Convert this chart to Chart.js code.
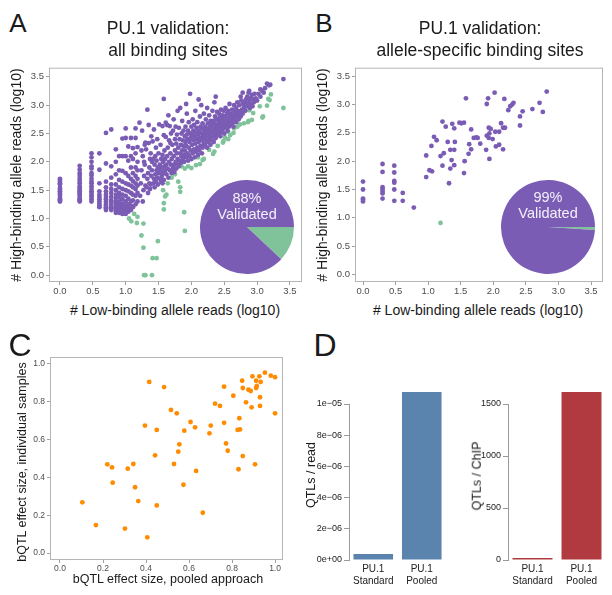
<!DOCTYPE html>
<html>
<head>
<meta charset="utf-8">
<script src="https://cdn.jsdelivr.net/npm/chart.js@4.4.0/dist/chart.umd.min.js"></script>
<style>
  html, body { margin: 0; padding: 0; background: #fff; }
  #page { position: relative; width: 612px; height: 595px; overflow: hidden;
    font-family: 'Liberation Sans', Arial, sans-serif; color: #1a1a1a; }
  canvas { position: absolute; }
  .t { position: absolute; white-space: nowrap; line-height: 1; transform: translate(-50%, -50%); }
  .rot { transform: translate(-50%, -50%) rotate(-90deg); }
  .title { font-size: 17.5px; line-height: 22px; text-align: center; }
  .axt { font-size: 14px; }
  .axs { font-size: 12.5px; }
  .pie { font-size: 14.5px; color: #f4f0fa; }
</style>
</head>
<body>
<div id="page">
  <canvas id="scatterA" width="306" height="240" style="left:0;top:60px"></canvas>
  <canvas id="scatterB" width="306" height="240" style="left:306px;top:60px"></canvas>
  <canvas id="pieA" width="94" height="94" style="left:200px;top:180px"></canvas>
  <canvas id="pieB" width="94" height="94" style="left:501px;top:180px"></canvas>
  <canvas id="scatterC" width="306" height="255" style="left:0;top:340px"></canvas>
  <canvas id="barRead" width="150" height="215" style="left:306px;top:380px"></canvas>
  <canvas id="barChip" width="156" height="215" style="left:456px;top:380px"></canvas>

  <div class="t" style="left:18px;top:22.5px;font-size:26px">A</div>
  <div class="t" style="left:324px;top:22.5px;font-size:26px">B</div>
  <div class="t" style="left:20px;top:345px;font-size:32px">C</div>
  <div class="t" style="left:325px;top:345px;font-size:32px">D</div>

  <div class="t title" style="left:168px;top:39px">PU.1 validation:<br>all binding sites</div>
  <div class="t title" style="left:480px;top:39px">PU.1 validation:<br>allele-specific binding sites</div>

  <div class="t axt rot" style="left:15.5px;top:175px"># High-binding allele reads (log10)</div>
  <div class="t axt" style="left:175px;top:310px"># Low-binding allele reads (log10)</div>
  <div class="t axt rot" style="left:321.5px;top:175px"># High-binding allele reads (log10)</div>
  <div class="t axt" style="left:478px;top:310px"># Low-binding allele reads (log10)</div>

  <div class="t pie" style="left:247px;top:198px">88%</div>
  <div class="t pie" style="left:247px;top:214px">Validated</div>
  <div class="t pie" style="left:548px;top:197px">99%</div>
  <div class="t pie" style="left:548px;top:213px">Validated</div>

  <div class="t axs rot" style="left:21.5px;top:462px">bQTL effect size, individual samples</div>
  <div class="t axs" style="left:168px;top:579px">bQTL effect size, pooled approach</div>

  <div class="t axs rot" style="left:311px;top:475px">QTLs / read</div>
  <div class="t axs rot" style="left:477px;top:476px">QTLs / ChIP</div>
</div>
<script>
const FONT = "'Liberation Sans', Arial, sans-serif"

const PURPLE = '#7b5cb4'
const GREEN = '#80c39b'
const ORANGE = '#ff8c00'
const BLUE = '#5a84ad'
const RED = '#b13a41'

// ---- panel A: all binding sites (log10 reads) ----
// low read counts sit on discrete columns
const A_COLUMN_X = [0, 0.30, 0.48, 0.60, 0.70, 0.78, 0.85, 0.90, 0.95, 1.00, 1.04, 1.08, 1.11, 1.15, 1.18]
const A_COLUMN_Y = [
  [1.30, 1.32, 1.34, 1.36, 1.40, 1.43, 1.45, 1.48, 1.51, 1.54, 1.60, 1.62, 1.65, 1.68, 1.70],
  [1.30, 1.32, 1.34, 1.36, 1.40, 1.43, 1.45, 1.48, 1.51, 1.54, 1.57, 1.62, 1.66, 1.70, 1.75, 1.80, 1.86, 1.93],
  [1.30, 1.34, 1.38, 1.41, 1.45, 1.48, 1.52, 1.57, 1.62, 1.65, 1.70, 1.76, 1.80, 1.88, 1.92, 2.00, 2.08, 2.15],
  [1.20, 1.23, 1.26, 1.30, 1.34, 1.38, 1.42, 1.48, 1.62, 1.86, 2.15],
  [1.15, 1.18, 1.20, 1.23, 1.26, 1.30, 1.34, 1.38, 1.42, 1.48, 1.55, 1.65, 1.97, 2.51],
  [1.15, 1.18, 1.20, 1.24, 1.28, 1.32, 1.38, 1.45, 1.52, 1.60, 1.72, 1.92, 2.57],
  [1.10, 1.14, 1.18, 1.22, 1.26, 1.30, 1.36, 1.42, 1.50, 1.60, 1.78, 2.00, 2.22],
  [1.10, 1.13, 1.17, 1.20, 1.25, 1.30, 1.38, 1.45, 1.55, 1.68, 1.85, 2.10],
  [1.08, 1.12, 1.16, 1.20, 1.26, 1.34, 1.42, 1.52, 1.65, 1.84, 2.10, 2.41],
  [1.08, 1.12, 1.17, 1.22, 1.30, 1.40, 1.50, 1.62, 1.80, 2.10, 2.42, 2.59],
  [1.12, 1.18, 1.25, 1.35, 1.48, 1.60, 1.75, 2.02, 2.27],
  [1.15, 1.22, 1.30, 1.45, 1.58, 1.70, 1.90, 2.10, 2.42],
  [1.20, 1.32, 1.42, 1.55, 1.66, 1.80, 2.05, 2.24],
  [1.25, 1.40, 1.52, 1.62, 1.75, 1.90, 2.15, 2.42, 2.59],
  [1.30, 1.45, 1.58, 1.70, 1.85, 2.00, 2.26],
]

const A_PURPLE = [
  [1.21, 2.69], [1.22, 1.40], [1.23, 1.62], [1.24, 1.85], [1.25, 2.55], [1.26, 2.10], [1.27, 1.50], [1.28, 1.75],
  [1.28, 2.00], [1.29, 2.30], [1.30, 1.58], [1.30, 2.34], [1.26, 1.30], [1.29, 1.95], [1.24, 2.20],
  [1.33, 2.92], [1.32, 1.55], [1.33, 1.70], [1.34, 1.80], [1.35, 2.65], [1.35, 2.33], [1.36, 1.62], [1.36, 1.90],
  [1.37, 2.05], [1.38, 1.60], [1.38, 2.15], [1.39, 1.75], [1.39, 2.45], [1.40, 1.85], [1.40, 2.00], [1.31, 2.22],
  [1.34, 1.45], [1.37, 1.52],
  [1.41, 2.36], [1.42, 1.62], [1.43, 2.57], [1.43, 1.70], [1.44, 1.95], [1.45, 1.78], [1.45, 2.10], [1.46, 1.65],
  [1.46, 2.25], [1.47, 1.85], [1.47, 2.02], [1.48, 1.72], [1.48, 2.40], [1.49, 1.90], [1.49, 1.60], [1.50, 2.15],
  [1.50, 1.80], [1.42, 2.05], [1.44, 1.55],
  [1.51, 2.66], [1.52, 1.95], [1.52, 1.70], [1.53, 1.85], [1.53, 2.30], [1.54, 2.05], [1.55, 1.75], [1.55, 1.90],
  [1.56, 2.63], [1.56, 2.12], [1.57, 1.80], [1.57, 2.00], [1.58, 3.11], [1.58, 2.47], [1.58, 1.68], [1.59, 1.92],
  [1.59, 2.20], [1.60, 1.85], [1.60, 2.05], [1.54, 1.65], [1.56, 1.62],
  [1.61, 2.69], [1.61, 2.44], [1.62, 1.78], [1.62, 1.95], [1.63, 2.65], [1.63, 2.10], [1.64, 1.88], [1.64, 2.25],
  [1.65, 1.72], [1.65, 2.82], [1.66, 2.38], [1.66, 2.00], [1.67, 2.63], [1.67, 1.85], [1.68, 2.33], [1.68, 2.15],
  [1.69, 1.95], [1.69, 2.50], [1.70, 1.80], [1.70, 2.05],
  [1.71, 2.30], [1.72, 1.90], [1.72, 2.55], [1.73, 2.10], [1.73, 2.75], [1.74, 1.95], [1.75, 2.40], [1.75, 2.20],
  [1.76, 2.00], [1.76, 2.62], [1.77, 1.88], [1.77, 2.32], [1.78, 2.15], [1.78, 2.48], [1.79, 2.05], [1.79, 2.90],
  [1.80, 1.95], [1.80, 2.25], [1.74, 1.82], [1.71, 1.85],
  [1.81, 2.60], [1.82, 2.02], [1.82, 2.40], [1.83, 2.15], [1.83, 2.95], [1.84, 1.98], [1.84, 2.30], [1.85, 2.50],
  [1.85, 2.10], [1.86, 2.72], [1.86, 2.20], [1.87, 2.05], [1.87, 2.38], [1.88, 2.28], [1.88, 2.55], [1.89, 2.12],
  [1.89, 2.00], [1.90, 2.45], [1.90, 2.20], [1.81, 1.92],
  [1.91, 2.35], [1.91, 2.62], [1.92, 2.08], [1.92, 2.28], [1.93, 2.48], [1.93, 2.85], [1.94, 2.15], [1.94, 2.40],
  [1.95, 2.02], [1.95, 2.55], [1.96, 2.25], [1.96, 2.70], [1.97, 2.10], [1.97, 2.35], [1.98, 2.50], [1.98, 3.20],
  [1.99, 2.20], [1.99, 2.42], [2.00, 2.05], [2.00, 2.62], [1.92, 3.02],
  [2.01, 2.30], [2.01, 2.48], [2.02, 2.15], [2.02, 2.75], [2.03, 2.38], [2.03, 2.55], [2.04, 2.22], [2.04, 2.65],
  [2.05, 2.08], [2.05, 2.45], [2.06, 2.32], [2.06, 2.90], [2.07, 2.18], [2.07, 2.52], [2.08, 2.40], [2.08, 2.60],
  [2.09, 2.25], [2.09, 2.70], [2.10, 2.12], [2.10, 2.48],
  [2.11, 2.35], [2.12, 2.55], [2.12, 2.20], [2.13, 2.80], [2.13, 2.42], [2.14, 2.28], [2.14, 2.62], [2.15, 2.50],
  [2.15, 3.00], [2.16, 2.15], [2.16, 2.38], [2.17, 2.68], [2.17, 2.25], [2.18, 2.45], [2.18, 2.58], [2.19, 2.32],
  [2.19, 2.85], [2.20, 2.40], [2.20, 2.52], [2.11, 3.10],
  [2.21, 2.62], [2.21, 2.30], [2.22, 2.48], [2.22, 2.75], [2.23, 2.38], [2.23, 2.55], [2.24, 2.25], [2.24, 2.95],
  [2.25, 2.45], [2.25, 2.68], [2.26, 2.35], [2.26, 2.58], [2.27, 2.50], [2.27, 2.82], [2.28, 2.40], [2.28, 2.62],
  [2.29, 2.30], [2.29, 2.72], [2.30, 2.55], [2.30, 2.45],
  [2.31, 2.65], [2.31, 2.38], [2.32, 2.52], [2.32, 2.90], [2.33, 2.45], [2.33, 2.72], [2.34, 2.58], [2.34, 2.35],
  [2.35, 2.68], [2.35, 3.05], [2.36, 2.50], [2.36, 2.80], [2.37, 2.42], [2.37, 2.62], [2.38, 2.75], [2.38, 2.55],
  [2.39, 2.48], [2.39, 2.88], [2.40, 2.65], [2.40, 2.58], [2.37, 3.15],
  [2.41, 2.72], [2.41, 2.50], [2.42, 2.62], [2.42, 2.85], [2.43, 2.55], [2.43, 2.78], [2.44, 2.68], [2.44, 2.45],
  [2.45, 2.60], [2.45, 2.92], [2.46, 2.72], [2.46, 2.52], [2.47, 2.82], [2.47, 2.65], [2.48, 2.58], [2.48, 2.75],
  [2.49, 2.90], [2.49, 2.62], [2.50, 2.70], [2.50, 2.50],
  [2.51, 2.80], [2.52, 2.65], [2.52, 2.95], [2.53, 2.72], [2.54, 2.60], [2.54, 2.85], [2.55, 2.75], [2.56, 2.68],
  [2.56, 2.90], [2.57, 2.62], [2.58, 2.80], [2.58, 3.02], [2.59, 2.72], [2.60, 2.85], [2.60, 2.65], [2.55, 2.55],
  [2.61, 2.78], [2.62, 2.92], [2.62, 2.68], [2.63, 2.82], [2.64, 2.75], [2.65, 3.00], [2.65, 2.72], [2.66, 2.88],
  [2.67, 2.80], [2.68, 2.95], [2.68, 2.70], [2.69, 2.85], [2.70, 3.05], [2.70, 2.78], [2.64, 2.62],
  [2.71, 2.90], [2.72, 2.82], [2.73, 3.00], [2.74, 2.88], [2.75, 2.80], [2.76, 3.08], [2.77, 2.92], [2.78, 2.85],
  [2.79, 3.02], [2.80, 2.95], [2.78, 3.22], [2.75, 3.15], [2.72, 2.75],
  [2.81, 3.05], [2.82, 2.90], [2.83, 3.10], [2.84, 2.98], [2.85, 3.15], [2.86, 3.02], [2.87, 3.22], [2.88, 3.08],
  [2.89, 2.95], [2.90, 3.12], [2.88, 3.25],
  [2.91, 3.02], [2.92, 3.18], [2.94, 3.10], [2.95, 3.05], [2.96, 3.20], [2.98, 3.12], [3.00, 3.08], [2.93, 2.98],
  [3.02, 3.20], [3.05, 3.15], [3.08, 3.25], [3.10, 3.22], [3.12, 3.30], [3.15, 3.38], [3.18, 3.35], [3.20, 3.36],
  [3.05, 3.28], [3.40, 3.46],
]

const A_GREEN = [
  [1.05, 1.00], [1.085, 0.95], [1.13, 1.08], [1.18, 1.03], [1.17, 0.92], [1.27, 0.91], [1.24, 0.70], [1.27, 0.485],
  [1.49, 0.60], [1.41, 0.30], [1.47, 0.30], [1.28, 0.00], [1.30, 0.00], [1.40, 0.00], [1.90, 0.78], [1.89, 1.11],
  [1.58, 1.16], [1.58, 1.27], [1.60, 1.39], [1.57, 1.50], [1.64, 1.62], [1.83, 1.47], [1.80, 1.65], [1.62, 1.42],
  [1.83, 1.55], [1.70, 1.72], [1.75, 1.78], [1.90, 1.88], [1.85, 1.92], [1.95, 1.92], [2.00, 1.89], [2.07, 1.94],
  [2.10, 2.08], [2.17, 2.03], [2.13, 1.96], [2.19, 2.05], [2.27, 2.21], [2.33, 2.14], [2.35, 2.18], [2.40, 2.28],
  [2.48, 2.34], [2.49, 2.37], [2.51, 2.43], [2.56, 2.40], [2.56, 2.53], [2.59, 2.47], [2.64, 2.51], [2.65, 2.59],
  [2.70, 2.62], [2.74, 2.66], [2.80, 2.68], [2.86, 2.70], [2.87, 2.72], [2.88, 2.91], [2.92, 2.74], [2.94, 2.86],
  [3.04, 2.98], [3.08, 2.78], [3.09, 2.80], [3.15, 2.99], [3.17, 3.11], [3.19, 3.09], [3.21, 3.19], [3.40, 2.95],
]
const A_PIE = [12, 88]

// ---- panel B: allele-specific binding sites ----
const B_PURPLE = [
  [0, 1.64], [0, 1.50], [0, 1.34], [0, 1.32], [0, 1.29],
  [0.30, 1.95], [0.30, 1.81], [0.30, 1.54], [0.30, 1.50], [0.30, 1.46], [0.30, 1.43], [0.30, 1.34],
  [0.48, 1.92], [0.48, 1.80], [0.48, 1.65], [0.48, 1.62], [0.48, 1.50], [0.48, 1.30],
  [0.61, 1.44], [0.61, 1.30], [0.78, 1.18],
  [0.97, 2.10], [0.97, 1.72], [1.02, 1.84], [1.06, 1.82], [1.05, 2.27], [1.09, 2.43], [1.13, 2.37],
  [1.22, 2.70], [1.27, 2.61], [1.19, 2.09], [1.24, 2.14], [1.22, 1.92], [1.30, 2.34], [1.34, 2.20],
  [1.34, 1.87], [1.32, 1.61], [1.37, 2.66], [1.40, 2.58], [1.40, 2.20], [1.41, 2.34], [1.40, 1.93],
  [1.36, 2.02], [1.48, 2.68], [1.51, 2.67], [1.55, 2.68], [1.58, 3.11], [1.55, 1.79], [1.56, 2.00],
  [1.62, 2.13], [1.63, 2.30], [1.66, 2.56], [1.66, 2.21], [1.70, 2.41], [1.74, 2.42], [1.76, 2.41],
  [1.80, 2.31], [1.89, 2.20], [1.90, 3.01], [1.92, 3.11], [1.93, 2.59], [1.93, 2.41], [1.94, 2.49],
  [1.94, 2.04], [2.02, 3.21], [1.99, 2.39], [1.90, 2.45], [1.96, 2.57], [2.03, 2.52], [2.09, 2.52],
  [2.04, 2.26], [2.09, 2.29], [2.12, 2.67], [2.15, 2.59], [2.18, 2.59], [2.15, 2.21], [2.17, 3.10],
  [2.23, 2.90], [2.26, 2.97], [2.29, 3.00], [2.31, 3.03], [2.41, 2.79], [2.41, 2.63], [2.45, 2.88],
  [2.60, 2.92], [2.71, 3.03], [2.76, 2.87], [2.82, 3.23],
]
const B_GREEN = [[1.19, 0.91]]
const B_PIE = [1, 99]

const AB_X_TICKS = [0, 0.5, 1, 1.5, 2, 2.5, 3, 3.5]
const AB_Y_TICKS = [0, 0.5, 1, 1.5, 2, 2.5, 3, 3.5]

// ---- panel C: bQTL effect sizes ----
const C_POINTS = [
  [0.104, 0.268], [0.167, 0.148], [0.220, 0.469], [0.242, 0.453], [0.245, 0.372], [0.315, 0.446],
  [0.302, 0.129], [0.341, 0.471], [0.349, 0.348], [0.364, 0.275], [0.395, 0.674], [0.406, 0.083],
  [0.415, 0.905], [0.442, 0.517], [0.450, 0.651], [0.450, 0.252], [0.484, 0.878], [0.516, 0.757],
  [0.530, 0.471], [0.543, 0.739], [0.550, 0.536], [0.555, 0.575], [0.574, 0.361], [0.578, 0.647],
  [0.607, 0.693], [0.628, 0.665], [0.633, 0.434], [0.664, 0.213], [0.695, 0.633], [0.701, 0.674],
  [0.721, 0.790], [0.744, 0.778], [0.763, 0.689], [0.763, 0.880], [0.772, 0.580], [0.780, 0.541],
  [0.806, 0.832], [0.826, 0.651], [0.834, 0.713], [0.830, 0.443], [0.837, 0.654], [0.847, 0.912],
  [0.850, 0.873], [0.850, 0.513], [0.865, 0.797], [0.876, 0.864], [0.887, 0.857], [0.891, 0.771],
  [0.895, 0.935], [0.912, 0.873], [0.915, 0.884], [0.912, 0.912], [0.907, 0.469], [0.933, 0.905],
  [0.927, 0.935], [0.930, 0.824], [0.930, 0.778], [0.953, 0.954], [0.980, 0.938], [1.000, 0.930],
  [1.000, 0.739],
]
const C_TICKS = [0, 0.2, 0.4, 0.6, 0.8, 1.0]

// ---- panel D: QTL yield ----
const D_LABELS = [['PU.1', 'Standard'], ['PU.1', 'Pooled']]
const D_PER_READ = [3.85e-7, 1.077e-5]
const D_PER_CHIP = [19, 1615]
const D_READ_TICKS = [0, 2e-6, 4e-6, 6e-6, 8e-6, 1e-5]
const D_CHIP_TICKS = [0, 500, 1000, 1500]

const plotBox = {
  id: 'plotBox',
  beforeDatasetsDraw(chart, args, opts) {
    const { ctx, chartArea: a } = chart
    ctx.save()
    ctx.strokeStyle = opts.color
    ctx.lineWidth = 1
    ctx.strokeRect(a.left + 0.5, a.top + 0.5, a.width - 1, a.height - 1)
    ctx.restore()
  },
}

function fixedTicks(values) {
  return (scale) => {
    scale.ticks = values.map((value) => ({ value }))
  }
}

function toPoints(pairs) {
  return pairs.map(([x, y]) => ({ x, y }))
}

function columnPoints(xs, ys) {
  const points = []
  xs.forEach((x, i) => {
    for (const y of ys[i]) points.push({ x, y })
  })
  return points
}

function dots(points, color) {
  return {
    data: points,
    backgroundColor: color,
    pointRadius: 2.4,
    pointBorderWidth: 0,
    pointHoverRadius: 2.4,
  }
}

function scatterAxis(range, ticks, size, horizontal, fontSize) {
  return {
    type: 'linear',
    min: range[0],
    max: range[1],
    afterBuildTicks: fixedTicks(ticks),
    afterFit(scale) {
      if (horizontal) scale.height = size
      else scale.width = size
    },
    grid: { drawOnChartArea: false, drawTicks: true, tickLength: 3, color: '#a0a0a0' },
    border: { display: false },
    ticks: {
      color: '#4d4d4d',
      font: { family: FONT, size: fontSize },
      padding: horizontal ? 1 : 2,
      autoSkip: false,
      maxRotation: 0,
      callback: (v) => Number(v).toFixed(1),
    },
  }
}

function mountScatter(id, datasets, frame) {
  new Chart(document.getElementById(id), {
    type: 'scatter',
    data: { datasets },
    options: {
      responsive: false,
      animation: false,
      events: [],
      layout: { padding: frame.padding },
      plugins: {
        legend: { display: false },
        tooltip: { enabled: false },
        plotBox: { color: '#b5b5b5' },
      },
      scales: {
        x: scatterAxis(frame.xRange, frame.xTicks, frame.xSize, true, frame.font),
        y: scatterAxis(frame.yRange, frame.yTicks, frame.ySize, false, frame.font),
      },
    },
    plugins: [plotBox],
  })
}

function mountPie(id, values) {
  new Chart(document.getElementById(id), {
    type: 'pie',
    data: {
      datasets: [{ data: values, backgroundColor: [GREEN, PURPLE], borderWidth: 0, hoverOffset: 0, offset: 0 }],
    },
    options: {
      responsive: false,
      animation: false,
      events: [],
      rotation: 90,
      layout: { padding: 0 },
      plugins: { legend: { display: false }, tooltip: { enabled: false } },
    },
  })
}

function sciLabel(v) {
  const [mant, exp] = Number(v).toExponential(0).split('e')
  const n = parseInt(exp, 10)
  return `${mant}e${n < 0 ? '\u2212' : '+'}${String(Math.abs(n)).padStart(2, '0')}`
}

function mountBars(id, values, color, yTicks, format, frame) {
  new Chart(document.getElementById(id), {
    type: 'bar',
    data: {
      labels: D_LABELS,
      datasets: [{
        data: values,
        backgroundColor: color,
        borderWidth: 0,
        barPercentage: 0.816,
        categoryPercentage: 1,
        clip: false,
      }],
    },
    options: {
      responsive: false,
      animation: false,
      events: [],
      layout: { padding: frame.padding },
      plugins: { legend: { display: false }, tooltip: { enabled: false } },
      scales: {
        x: {
          grid: { display: false, drawTicks: false },
          border: { display: false },
          afterFit(scale) { scale.height = frame.xSize },
          ticks: { color: '#222', font: { family: FONT, size: 10, lineHeight: 1.2 }, padding: 3, maxRotation: 0 },
        },
        y: {
          min: 0,
          max: yTicks[yTicks.length - 1],
          afterBuildTicks: fixedTicks(yTicks),
          afterFit(scale) { scale.width = frame.ySize },
          grid: { drawOnChartArea: false, drawTicks: true, tickLength: 5, color: '#9a9a9a' },
          border: { display: true, color: '#9a9a9a' },
          ticks: { color: '#222', font: { family: FONT, size: 9 }, padding: 2, autoSkip: false, callback: format },
        },
      },
    },
  })
}

mountScatter('scatterA', [
  dots(columnPoints(A_COLUMN_X, A_COLUMN_Y).concat(toPoints(A_PURPLE)), PURPLE),
  dots(toPoints(A_GREEN), GREEN),
], {
  padding: { left: 0, top: 4, right: 4, bottom: 0 },
  xRange: [-0.167, 3.683], yRange: [-0.121, 3.661],
  xTicks: AB_X_TICKS, yTicks: AB_Y_TICKS, xSize: 18, ySize: 49, font: 9.5,
})

mountScatter('scatterB', [
  dots(toPoints(B_PURPLE), PURPLE),
  dots(toPoints(B_GREEN), GREEN),
], {
  padding: { left: 0, top: 4, right: 9, bottom: 0 },
  xRange: [-0.123, 3.684], yRange: [-0.134, 3.651],
  xTicks: AB_X_TICKS, yTicks: AB_Y_TICKS, xSize: 18, ySize: 49, font: 9.5,
})

mountPie('pieA', A_PIE)
mountPie('pieB', B_PIE)

mountScatter('scatterC', [dots(toPoints(C_POINTS), ORANGE)], {
  padding: { left: 0, top: 17, right: 23, bottom: 0 },
  xRange: [-0.0465, 1.037], yRange: [-0.037, 1.037],
  xTicks: C_TICKS, yTicks: C_TICKS, xSize: 35, ySize: 50, font: 8.5,
})

mountBars('barRead', D_PER_READ, BLUE, D_READ_TICKS, sciLabel, {
  padding: { left: 0, top: 24, right: 10, bottom: 0 }, xSize: 35, ySize: 43,
})
mountBars('barChip', D_PER_CHIP, RED, D_CHIP_TICKS, (v) => String(v), {
  padding: { left: 0, top: 24, right: 6, bottom: 0 }, xSize: 35, ySize: 52,
})
</script>
</body>
</html>
